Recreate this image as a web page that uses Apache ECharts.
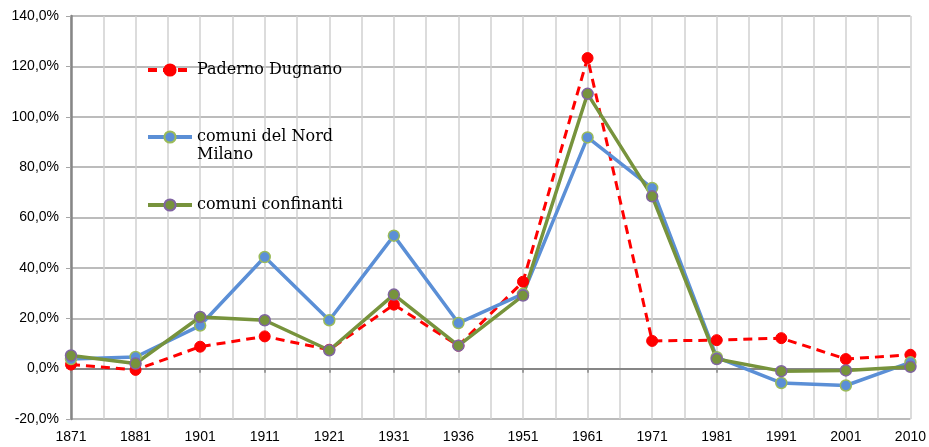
<!DOCTYPE html>
<html>
<head>
<meta charset="utf-8">
<script src="https://cdn.jsdelivr.net/npm/echarts@6/dist/echarts.min.js"></script>
<style>
html, body { margin: 0; padding: 0; background: #fff; }
#chart { width: 929px; height: 447px; }
</style>
</head>
<body>
<div id="chart"></div>
<script>
// anni del censimento
var anni = ['1871', '1881', '1901', '1911', '1921', '1931', '1936', '1951', '1961', '1971', '1981', '1991', '2001', '2010'];
// variazione % della popolazione
var paderno = [1.6, -0.5, 8.7, 12.8, 7.5, 25.4, 9.1, 34.5, 123.3, 11.0, 11.3, 12.1, 3.8, 5.5];
var nordMilano = [3.8, 4.6, 17.1, 44.3, 19.2, 52.8, 18.1, 29.7, 91.8, 71.7, 4.5, -5.7, -6.7, 2.5];
var confinanti = [5.2, 2.0, 20.5, 19.2, 7.3, 29.4, 9.1, 29.0, 109.1, 68.4, 3.8, -1.0, -0.7, 0.7];
var nomi = ['Paderno Dugnano', 'comuni del Nord Milano', 'comuni confinanti'];

// griglia verticale ogni mezzo intervallo
var mezzi = [];
for (var i = 0; i < anni.length * 2 - 1; i++) {
    mezzi.push('');
}

var fontAssi = 'Liberation Sans';
var fontLegenda = 'DejaVu Serif';

var chart = echarts.init(document.getElementById('chart'));

function fmtPerc(v) {
    return v.toFixed(1).replace('.', ',') + '%';
}

var testoLegenda = { fontFamily: fontLegenda, fontSize: 16, color: '#000', lineHeight: 18 };

var legendBase = {
    orient: 'vertical',
    left: 141,
    itemWidth: 44,
    itemHeight: 14,
    itemGap: 6,
    lineStyle: { width: 4 },
    textStyle: testoLegenda,
    selectedMode: false
};

var option = {
    animation: false,
    grid: { left: 71, right: 17, top: 16, bottom: 28 },
    legend: [
        Object.assign({}, legendBase, { top: 56, data: [nomi[0]] }),
        Object.assign({}, legendBase, {
            top: 105,
            data: [nomi[1]],
            // riga vuota sopra: il simbolo resta allineato alla prima riga
            formatter: function () { return ' \ncomuni del Nord\nMilano'; }
        }),
        Object.assign({}, legendBase, { top: 191, data: [nomi[2]] })
    ],
    xAxis: [{
        type: 'category',
        data: anni,
        boundaryGap: false,
        position: 'bottom',
        axisLine: { show: false, onZero: false },
        axisTick: { show: false },
        splitLine: { show: false },
        axisLabel: { fontFamily: fontAssi, fontSize: 14, color: '#000', margin: 11, interval: 0 }
    }, {
        type: 'category',
        data: mezzi,
        boundaryGap: false,
        position: 'bottom',
        axisLine: { show: false, onZero: false },
        axisTick: { show: false },
        axisLabel: { show: false },
        splitLine: { show: true, lineStyle: { color: '#d0d0d0', width: 1.5 } }
    }, {
        type: 'category',
        data: anni,
        boundaryGap: false,
        position: 'bottom',
        axisLine: { show: true, onZero: true, lineStyle: { color: '#868686', width: 2 } },
        axisTick: { show: true, length: 4, lineStyle: { color: '#868686', width: 1.5 } },
        axisLabel: { show: false },
        splitLine: { show: false }
    }],
    yAxis: {
        type: 'value',
        min: -20,
        max: 140,
        interval: 20,
        axisLine: { show: true, lineStyle: { color: '#868686', width: 2.5 } },
        axisTick: { show: true, length: 5, lineStyle: { color: '#a6a6a6' } },
        splitLine: { lineStyle: { color: '#a6a6a6', width: 1.5 } },
        axisLabel: { fontFamily: fontAssi, fontSize: 14, color: '#000', margin: 12, formatter: fmtPerc }
    },
    series: [{
        name: nomi[0],
        type: 'line',
        data: paderno,
        symbol: 'circle',
        symbolSize: 11,
        lineStyle: { color: '#ff0000', width: 3, type: [9, 6] },
        itemStyle: { color: '#ff0000', borderColor: '#ff0000', borderWidth: 1 }
    }, {
        name: nomi[1],
        type: 'line',
        data: nordMilano,
        symbol: 'circle',
        symbolSize: 11,
        lineStyle: { color: '#5b8fd6', width: 3.5 },
        itemStyle: { color: '#5b8fd6', borderColor: '#9bbb59', borderWidth: 1.5 }
    }, {
        name: nomi[2],
        type: 'line',
        data: confinanti,
        symbol: 'circle',
        symbolSize: 11,
        lineStyle: { color: '#77933c', width: 3.5 },
        itemStyle: { color: '#77933c', borderColor: '#8064a2', borderWidth: 1.5 }
    }]
};

chart.setOption(option);
</script>
</body>
</html>
